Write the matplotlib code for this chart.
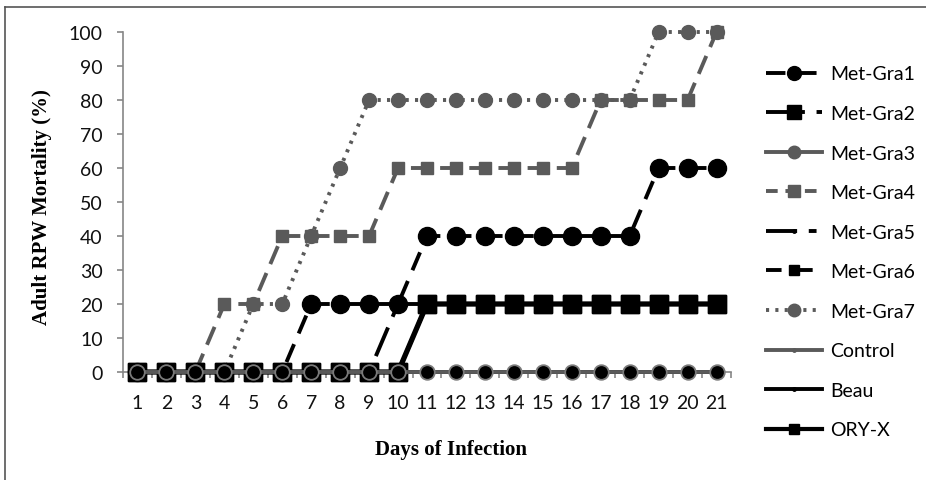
import numpy as np
import matplotlib.pyplot as plt
from matplotlib.lines import Line2D

# days since infection and cumulative mortality (%) per treatment
days = list(range(1, 22))
met_gra1 = [0, 0, 0, 0, 0, 0, 20, 20, 20, 20, 40, 40, 40, 40, 40, 40, 40, 40, 60, 60, 60]
met_gra2 = [0] * 10 + [20] * 11
met_gra3 = [0] * 21
met_gra4 = [0, 0, 0, 20, 20, 40, 40, 40, 40, 60, 60, 60, 60, 60, 60, 60, 80, 80, 80, 80, 100]
met_gra5 = [0] * 9 + [20] * 12
met_gra6 = [0] * 10 + [20] * 11
met_gra7 = [0, 0, 0, 0, 20, 20, 40, 60, 80, 80, 80, 80, 80, 80, 80, 80, 80, 80, 100, 100, 100]
control = [0] * 21
beau = [0] * 21
ory_x = [0] * 10 + [20] * 11

labels = ["Met-Gra1", "Met-Gra2", "Met-Gra3", "Met-Gra4", "Met-Gra5",
          "Met-Gra6", "Met-Gra7", "Control", "Beau", "ORY-X"]
y_ticks = list(range(0, 101, 10))

BLACK = "#000000"
GRAY = "#5a5a5a"
AXIS = "#868686"

fig = plt.figure(figsize=(9.26, 4.81), dpi=100)
ax = fig.add_axes([123 / 926, 1 - 373 / 481, (731 - 123) / 926, (373 - 33) / 481])

dash1 = (0, (5, 3))
dashdot2 = (0, (6, 3, 1, 3))
dash5 = (0, (8, 3, 2, 3))
dot7 = (0, (0.8, 1.6))
LW = 2.8

# chart series (order / zorder chosen so overlaps look like the original)
ax.plot(days, control, color=GRAY, lw=LW, zorder=2, clip_on=False)
ax.plot(days, beau, color=BLACK, lw=LW, zorder=2, clip_on=False)
ax.plot(days, met_gra5, color=BLACK, lw=LW, ls=dash5, marker="o", ms=3,
        zorder=2, clip_on=False)
ax.plot(days, met_gra4, color=GRAY, lw=LW, ls=(0, (5, 2.5)), marker="s", ms=9,
        zorder=3, clip_on=False)
ax.plot(days, met_gra7, color=GRAY, lw=LW, ls=dot7, marker="o", ms=10,
        zorder=3, clip_on=False)
ax.plot(days, met_gra6, color=BLACK, lw=LW, ls=dash1, marker="s", ms=8,
        zorder=3, clip_on=False)
ax.plot(days, met_gra1, color=BLACK, lw=LW, ls=dash1, marker="o", ms=13,
        zorder=4, clip_on=False)
ax.plot(days, met_gra2, color=BLACK, lw=LW, ls=dashdot2, marker="s", ms=13,
        zorder=4, clip_on=False)
ax.plot(days, ory_x, color=BLACK, lw=3.8, marker="s", ms=13.5,
        zorder=5, clip_on=False)
ax.plot(days, met_gra3, color=GRAY, lw=LW, marker="o", ms=10.5,
        mfc="#000000", mec="#7a7a7a", mew=1.3, zorder=6, clip_on=False)

ax.set_xlim(0.5, 21.5)
ax.set_ylim(0, 100)
ax.set_yticks(y_ticks)
ax.set_xticks(days)
ax.set_xticks(np.arange(0.5, 22, 1), minor=True)

for side in ("top", "right"):
    ax.spines[side].set_visible(False)
for side in ("left", "bottom"):
    ax.spines[side].set_color(AXIS)
    ax.spines[side].set_linewidth(1.2)

tick_font = {"family": "Lato", "size": 14}
ax.set_yticklabels([str(v) for v in y_ticks], fontdict=tick_font, color="#111111")
ax.set_xticklabels([str(d) for d in days], fontdict=tick_font, color="#111111")
ax.tick_params(axis="y", direction="out", length=4.5, width=1.2, color=AXIS, pad=10)
ax.tick_params(axis="x", which="major", length=0, pad=16)
ax.tick_params(axis="x", which="minor", direction="out", length=4, width=1.2, color=AXIS)

fig.text(42 / 926, 1 - 207 / 481, "Adult RPW Mortality (%)", rotation=90,
         ha="center", va="center", fontfamily="Liberation Serif",
         fontweight="bold", fontsize=15)
fig.text(451 / 926, 1 - 450 / 481, "Days of Infection", ha="center", va="center",
         fontfamily="Liberation Serif", fontweight="bold", fontsize=15)

# legend handles styled like the original legend
handles = [
    Line2D([], [], color=BLACK, lw=LW, ls=dash1, marker="o", ms=10),
    Line2D([], [], color=BLACK, lw=LW, ls=dashdot2, marker="s", ms=10),
    Line2D([], [], color=GRAY, lw=LW, marker="o", ms=9),
    Line2D([], [], color=GRAY, lw=LW, ls=(0, (3, 2)), marker="s", ms=8),
    Line2D([], [], color=BLACK, lw=LW, ls=dash5, marker="o", ms=2.5),
    Line2D([], [], color=BLACK, lw=LW, ls=(0, (4, 4)), marker="s", ms=7),
    Line2D([], [], color=GRAY, lw=LW, ls=dot7, marker="o", ms=9),
    Line2D([], [], color=GRAY, lw=LW, marker="o", ms=2.5),
    Line2D([], [], color=BLACK, lw=LW, marker="o", ms=2.5),
    Line2D([], [], color=BLACK, lw=3, marker="s", ms=6.5),
]
fig.legend(handles, labels, loc="center left",
           bbox_to_anchor=(766 / 926, 1 - 253 / 481),
           frameon=False, prop={"family": "Lato", "size": 14},
           handlelength=2.9, handletextpad=0.4, labelspacing=1.16,
           borderpad=0, borderaxespad=0)

# outer frame of the original figure
fig.add_artist(Line2D([5 / 926, 5 / 926], [0, 1 - 8 / 481], color="#555555", lw=1.2))
fig.add_artist(Line2D([5 / 926, 1], [1 - 8 / 481, 1 - 8 / 481], color="#555555", lw=1.2))

fig.savefig("out.png", dpi=100)
